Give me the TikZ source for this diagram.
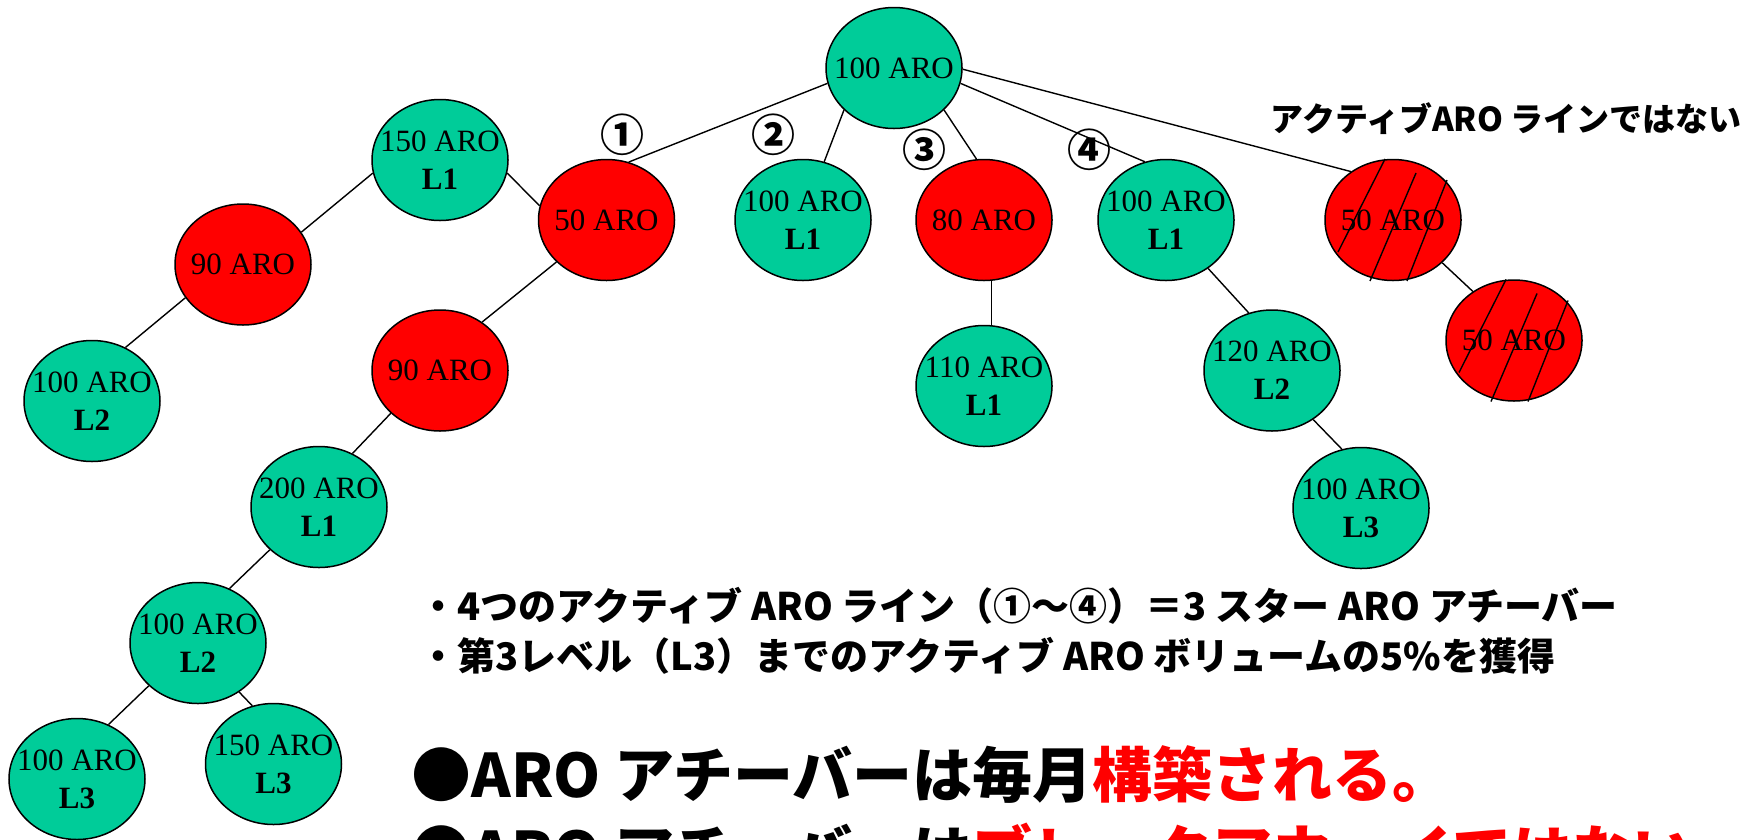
\documentclass[tikz,border=0pt]{standalone}
\usepackage{fontspec}
\usetikzlibrary{shapes.geometric}
\newfontfamily\aroFont{Liberation Serif}
\newfontfamily\jpFont{Noto Sans CJK JP}
\definecolor{aroGreen}{RGB}{0,204,153}
\definecolor{aroRed}{RGB}{255,0,0}
\tikzset{
	aro/.style={ellipse, draw, line width=1.5pt, minimum width=136pt, minimum height=121pt, inner sep=0pt,
		label={[align=center, font=\aroFont\fontsize{31}{38}\selectfont]center:#1}},
	okNode/.style={aro={#1}, fill=aroGreen},
	lowNode/.style={aro={#1}, fill=aroRed},
	jp/.style={inner sep=0pt, font=\jpFont\bfseries\fontsize{#1}{#1}\selectfont},
	num/.style={jp=44}
}
\begin{document}
\begin{tikzpicture}[x=1pt, y=-1pt, line width=1.4pt]
	\useasboundingbox (0,0) rectangle (1755,839);
	% top level
	\node[okNode={100 ARO}] (root) at (894,68) {};
	\node[lowNode={50 ARO}] (a1) at (606.5,220) {};
	\node[okNode={100 ARO\\\textbf{L1}}] (a2) at (803,220) {};
	\node[lowNode={80 ARO}] (a3) at (984,220) {};
	\node[okNode={100 ARO\\\textbf{L1}}] (a4) at (1166,220) {};
	\node[lowNode={50 ARO}] (h1) at (1393,220) {};
	\node[lowNode={50 ARO}] (h2) at (1514,340.5) {};
	% line 1
	\node[okNode={150 ARO\\\textbf{L1}}] (b150) at (440,160) {};
	\node[lowNode={90 ARO}] (r90l) at (243,264.5) {};
	\node[okNode={100 ARO\\\textbf{L2}}] (g100l) at (92,401) {};
	\node[lowNode={90 ARO}] (r90m) at (440,370.5) {};
	\node[okNode={200 ARO\\\textbf{L1}}] (g200) at (319,507) {};
	\node[okNode={100 ARO\\\textbf{L2}}] (g100b) at (198,643) {};
	\node[okNode={100 ARO\\\textbf{L3}}] (g100c) at (77,779) {};
	\node[okNode={150 ARO\\\textbf{L3}}] (g150c) at (273.5,764) {};
	% lines 3 and 4
	\node[okNode={110 ARO\\\textbf{L1}}] (g110) at (984,386) {};
	\node[okNode={120 ARO\\\textbf{L2}}] (g120) at (1272,370.5) {};
	\node[okNode={100 ARO\\\textbf{L3}}] (g100r) at (1361,508) {};
	% not an active line
	\foreach \h in {h1,h2}{
		\draw ([shift={(-55,32)}]\h.center) -- ([shift={(-8,-61)}]\h.center);
		\draw ([shift={(-23,61)}]\h.center) -- ([shift={(23,-47)}]\h.center);
		\draw ([shift={(14,61)}]\h.center) -- ([shift={(54,-40)}]\h.center);
	}
	\draw (root.193) -- (a1.69);
	\draw (root.220) -- (a2.70);
	\draw (root.320) -- (a3.97);
	\draw (root.-13) -- (a4.110);
	\draw (root.-1) -- (h1.131);
	\draw (h1.-41) -- (h2.130);
	\draw (a1.168) -- (b150.-11);
	\draw (b150.191) -- (r90l.29);
	\draw (r90l.210) -- (g100l.58);
	\draw (a1.220) -- (r90m.49);
	\draw (r90m.221) -- (g200.58);
	\draw (g200.221) -- (g100b.60);
	\draw (g100b.221) -- (g100c.60);
	\draw (g100b.-50) -- (g150c.110);
	\draw (a3.-83) -- (g110.83);
	\draw (a4.-49) -- (g120.112);
	\draw (g120.-50) -- (g100r.108);
	% circled numbers
	\node[num] (n1) at (622,135) {①};
	\node[num] (n2) at (773.5,135) {②};
	\node[num] (n3) at (924,150) {③};
	\node[num] (n4) at (1089.5,150) {④};
	\node[jp=33, anchor=west] (note) at (1270,119) {アクティブARO ラインではない};
	% texts
	\node[jp=38, anchor=west] (bul1) at (419,606) {・4つのアクティブ ARO ライン（①～④）＝3 スター ARO アチーバー};
	\node[jp=38, anchor=west] (bul2) at (419,656) {・第3レベル（L3）までのアクティブ ARO ボリュームの5\%を獲得};
	\node[jp=60, anchor=west] (big1) at (411,775) {●ARO アチーバーは毎月\textcolor{aroRed}{構築される。}};
	\node[jp=60, anchor=west] (big2) at (411,852) {●ARO アチーバーは\textcolor{aroRed}{ブレークアウェイではない}};
\end{tikzpicture}
\end{document}
